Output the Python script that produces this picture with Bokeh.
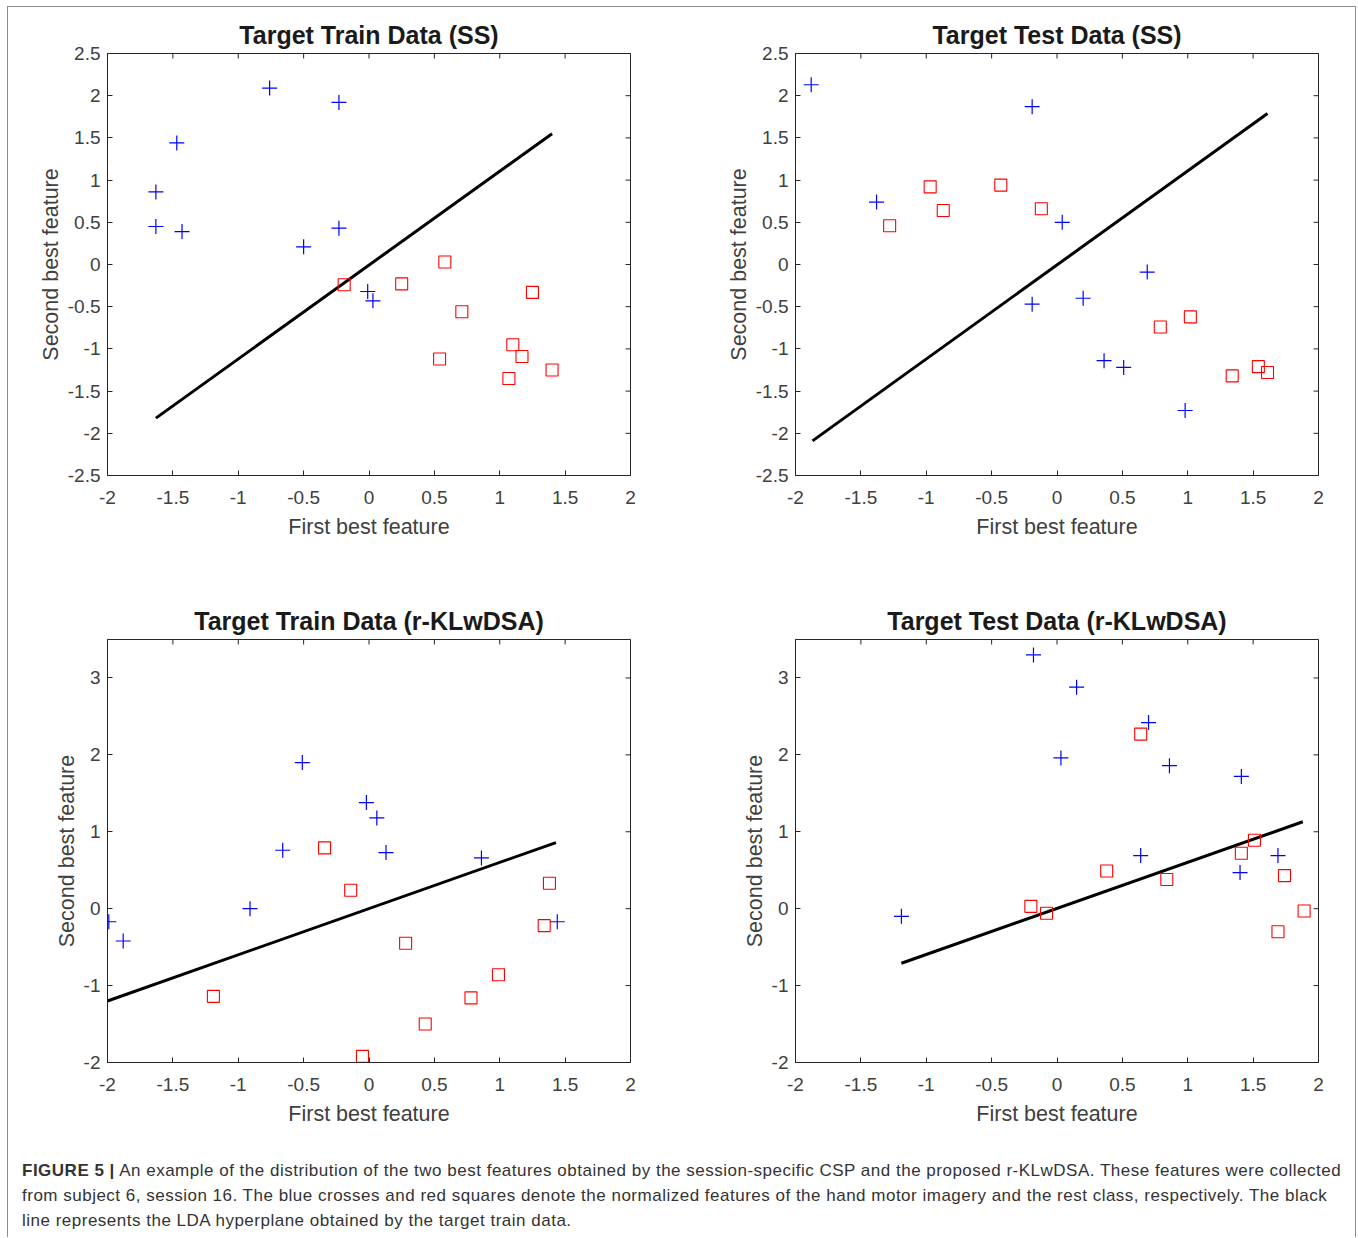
import math
from bokeh.plotting import figure
from bokeh.models import Range1d, FixedTicker, Div
from bokeh.layouts import row, column
from bokeh.embed import file_html
from bokeh.resources import INLINE

# ---------------- data ----------------
titles = ["Target Train Data (SS)", "Target Test Data (SS)",
          "Target Train Data (r-KLwDSA)", "Target Test Data (r-KLwDSA)"]
x_label = "First best feature"
y_label = "Second best feature"

x_ticks = [-2, -1.5, -1, -0.5, 0, 0.5, 1, 1.5, 2]
x_tick_labels = ["-2", "-1.5", "-1", "-0.5", "0", "0.5", "1", "1.5", "2"]
y_ticks_ss = [-2.5, -2, -1.5, -1, -0.5, 0, 0.5, 1, 1.5, 2, 2.5]
y_tick_labels_ss = ["-2.5", "-2", "-1.5", "-1", "-0.5", "0", "0.5", "1", "1.5", "2", "2.5"]
y_ticks_kl = [-2, -1, 0, 1, 2, 3]
y_tick_labels_kl = ["-2", "-1", "0", "1", "2", "3"]

# Panel 1: Target Train Data (SS)
p1_blue_x = [-0.76, -0.23, -1.47, -1.63, -1.63, -1.43, -0.23, -0.50, -0.01, 0.03]
p1_blue_y = [2.09, 1.92, 1.44, 0.86, 0.45, 0.39, 0.43, 0.21, -0.32, -0.43]
p1_red_x = [-0.19, 0.25, 0.58, 0.71, 1.25, 0.54, 1.10, 1.17, 1.40, 1.07]
p1_red_y = [-0.24, -0.23, 0.03, -0.56, -0.33, -1.12, -0.95, -1.09, -1.25, -1.35]
p1_line_x = [-1.63, 1.40]
p1_line_y = [-1.82, 1.55]

# Panel 2: Target Test Data (SS)
p2_blue_x = [-1.88, -0.19, -1.38, 0.04, -0.19, 0.20, 0.69, 0.36, 0.51, 0.98]
p2_blue_y = [2.13, 1.87, 0.74, 0.50, -0.47, -0.40, -0.09, -1.14, -1.22, -1.73]
p2_red_x = [-0.97, -1.28, -0.87, -0.43, -0.12, 0.79, 1.02, 1.34, 1.54, 1.61]
p2_red_y = [0.92, 0.46, 0.64, 0.94, 0.66, -0.74, -0.62, -1.32, -1.21, -1.28]
p2_line_x = [-1.87, 1.61]
p2_line_y = [-2.09, 1.79]

# Panel 3: Target Train Data (r-KLwDSA)
p3_blue_x = [-1.99, -1.88, -0.91, -0.66, -0.51, -0.02, 0.06, 0.13, 0.86, 1.44]
p3_blue_y = [-0.17, -0.42, 0.00, 0.76, 1.90, 1.38, 1.18, 0.73, 0.66, -0.17]
p3_red_x = [-0.34, -0.14, -1.19, 0.28, 0.43, -0.05, 0.78, 0.99, 1.38, 1.34]
p3_red_y = [0.79, 0.24, -1.14, -0.45, -1.50, -1.92, -1.16, -0.86, 0.33, -0.22]
p3_line_x = [-2.0, 1.43]
p3_line_y = [-1.20, 0.86]

# Panel 4: Target Test Data (r-KLwDSA)
p4_blue_x = [-0.18, 0.15, 0.70, 0.03, 0.86, 1.41, 0.64, 1.69, 1.40, -1.19]
p4_blue_y = [3.30, 2.88, 2.42, 1.96, 1.86, 1.72, 0.69, 0.69, 0.47, -0.10]
p4_red_x = [0.64, -0.20, -0.08, 0.38, 0.84, 1.41, 1.51, 1.74, 1.89, 1.69]
p4_red_y = [2.27, 0.03, -0.06, 0.49, 0.38, 0.72, 0.89, 0.43, -0.03, -0.30]
p4_line_x = [-1.19, 1.88]
p4_line_y = [-0.71, 1.13]

caption_bold = "FIGURE 5 |"
caption_lines = [
    " An example of the distribution of the two best features obtained by the session-specific CSP and the proposed r-KLwDSA. These features were collected",
    "from subject 6, session 16. The blue crosses and red squares denote the normalized features of the hand motor imagery and the rest class, respectively. The black",
    "line represents the LDA hyperplane obtained by the target train data.",
]

# ---------------- styling ----------------
FONT = "Liberation Sans"
AX_COL = "#262626"
TXT_COL = "#404040"


def make_panel(title, bx, by, rx, ry, lx, ly, yr, yticks, ylabels,
               width, height, bl, br, bt, bb):
    p = figure(width=width, height=height, output_backend="svg",
               toolbar_location=None, x_range=Range1d(-2, 2), y_range=Range1d(*yr),
               min_border_left=bl, min_border_right=br,
               min_border_top=bt, min_border_bottom=bb,
               x_axis_label=x_label, y_axis_label=y_label)
    p.title.text = title
    p.title.align = "center"
    p.title.text_font = FONT
    p.title.text_font_size = "25px"
    p.title.text_font_style = "bold"
    p.title.text_color = "#1a1a1a"
    p.title.standoff = 9
    p.xgrid.visible = False
    p.ygrid.visible = False
    p.outline_line_color = AX_COL
    p.outline_line_width = 1
    p.background_fill_color = "white"
    p.border_fill_color = "white"

    xt = FixedTicker(ticks=x_ticks, minor_ticks=[])
    yt = FixedTicker(ticks=yticks, minor_ticks=[])
    xover = {v: s for v, s in zip(x_ticks, x_tick_labels)}
    yover = {v: s for v, s in zip(yticks, ylabels)}

    for ax, tk, ov in ((p.xaxis[0], xt, xover), (p.yaxis[0], yt, yover)):
        ax.ticker = tk
        ax.major_label_overrides = ov
        ax.major_tick_in = 5
        ax.major_tick_out = 0
        ax.minor_tick_in = 0
        ax.minor_tick_out = 0
        ax.axis_line_color = AX_COL
        ax.major_tick_line_color = AX_COL
        ax.major_label_text_font = FONT
        ax.major_label_text_font_size = "19px"
        ax.major_label_text_color = TXT_COL
        ax.axis_label_text_font = FONT
        ax.axis_label_text_font_size = "21.5px"
        ax.axis_label_text_font_style = "normal"
        ax.axis_label_text_color = TXT_COL
    p.xaxis[0].major_label_standoff = 15
    p.xaxis[0].axis_label_standoff = 8
    p.yaxis[0].major_label_standoff = 7
    p.yaxis[0].axis_label_standoff = 2

    # mirrored inward ticks on the top and right edges (MATLAB "box on")
    p.ray(x=x_ticks, y=[yr[1]] * len(x_ticks), length=5, length_units="screen",
          angle=-math.pi / 2, line_color=AX_COL, line_width=1)
    p.ray(x=[2] * len(yticks), y=yticks, length=5, length_units="screen",
          angle=math.pi, line_color=AX_COL, line_width=1)

    p.line(lx, ly, line_color="black", line_width=3)
    p.scatter(bx, by, marker="cross", size=15, line_color="#0000ff",
              line_width=1.2)
    p.scatter(rx, ry, marker="square", size=12, fill_color=None,
              line_color="#ff0000", line_width=1.1)
    return p


p1 = make_panel(titles[0], p1_blue_x, p1_blue_y, p1_red_x, p1_red_y, p1_line_x, p1_line_y,
                (-2.5, 2.5), y_ticks_ss, y_tick_labels_ss, 688, 580, 99, 66, 46, 112)
p2 = make_panel(titles[1], p2_blue_x, p2_blue_y, p2_red_x, p2_red_y, p2_line_x, p2_line_y,
                (-2.5, 2.5), y_ticks_ss, y_tick_labels_ss, 659, 580, 99, 37, 46, 112)
p3 = make_panel(titles[2], p3_blue_x, p3_blue_y, p3_red_x, p3_red_y, p3_line_x, p3_line_y,
                (-2, 3.5), y_ticks_kl, y_tick_labels_kl, 688, 552, 99, 66, 52, 77)
p4 = make_panel(titles[3], p4_blue_x, p4_blue_y, p4_red_x, p4_red_y, p4_line_x, p4_line_y,
                (-2, 3.5), y_ticks_kl, y_tick_labels_kl, 659, 552, 99, 37, 52, 77)

html_caption = ("<span style='font-weight:bold'>" + caption_bold + "</span>"
                + caption_lines[0] + "<br>" + caption_lines[1] + "<br>" + caption_lines[2])
cap = Div(text=html_caption, width=1347, height=98, margin=(0, 0, 0, 0),
          styles={"font-family": FONT, "font-size": "17px", "line-height": "25px",
                  "letter-spacing": "0.5px",
                  "color": "#333333", "white-space": "nowrap",
                  "padding-left": "14px", "padding-top": "19px",
                  "box-sizing": "border-box"})

layout = column(row(p1, p2), row(p3, p4), cap, margin=(6, 0, 0, 7),
                styles={"border-top": "1px solid #8c8c8c",
                        "border-left": "1px solid #8c8c8c",
                        "border-right": "1px solid #8c8c8c"})

open("out.html", "w").write(file_html(layout, INLINE))
